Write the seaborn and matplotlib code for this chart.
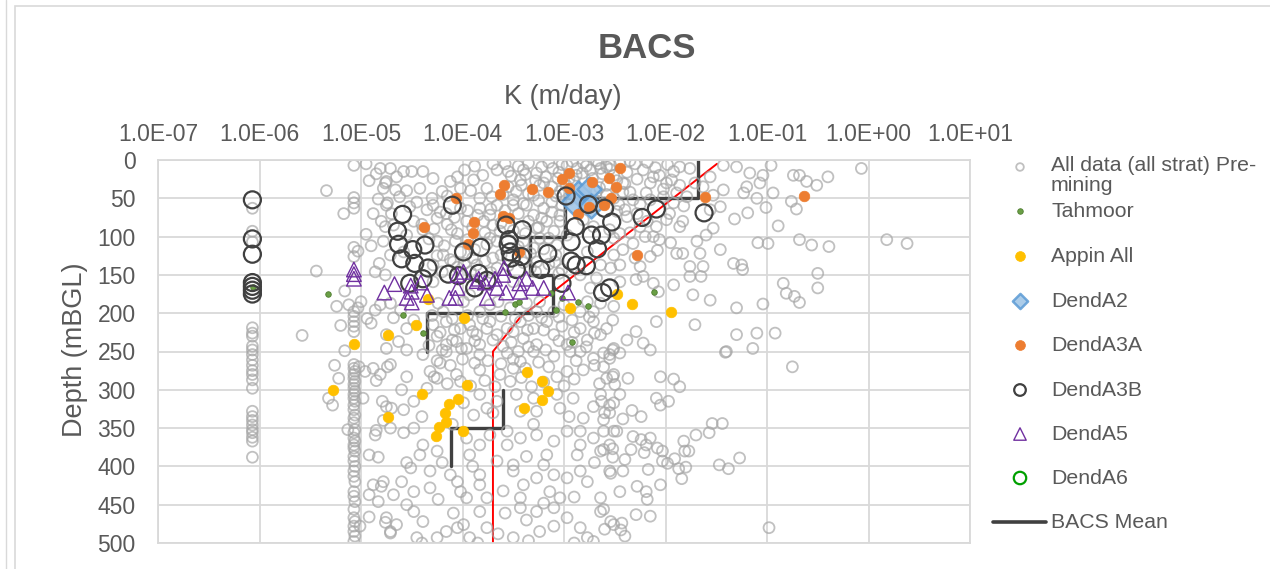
import numpy as np
import pandas as pd
import matplotlib
matplotlib.use("Agg")
import matplotlib.pyplot as plt
from matplotlib.ticker import FixedLocator, NullLocator, FixedFormatter
from matplotlib.patches import Rectangle
from matplotlib.lines import Line2D
import seaborn as sns

# ------------------------------------------------------------------ data
# every point is (log10 of K in m/day, depth in mBGL)
all_data_points = [
    # shallow / left part
    (-5.07, 7), (-4.92, 27), (-5.34, 40), (-5.07, 49), (-5.07, 56), (-5.07, 63), (-5.17, 70),
    (-4.78, 37), (-4.75, 28), (-4.83, 51), (-4.74, 56), (-4.76, 87), (-4.95, 97), (-4.90, 112),
    (-5.07, 114), (-5.03, 119), (-5.07, 126), (-5.44, 145), (-4.86, 146), (-5.16, 171),
    (-5.24, 191), (-5.12, 189), (-5.03, 193), (-5.00, 185), (-5.07, 198), (-5.07, 204),
    (-5.07, 211), (-5.07, 217), (-5.07, 224), (-5.20, 216), (-4.94, 207), (-4.90, 213),
    (-4.81, 189), (-4.86, 196), (-5.58, 229), (-4.71, 11),
    (-4.95, 5), (-4.85, 18), (-4.65, 22), (-4.62, 48), (-4.55, 40), (-4.45, 55), (-4.88, 70),
    (-4.68, 85), (-4.58, 120), (-4.82, 135),
    (-6.07, 63), (-6.07, 93), (-6.07, 107), (-6.07, 219), (-6.07, 226), (-6.07, 230),
    (-6.07, 243), (-6.07, 248), (-6.07, 254), (-6.07, 261), (-6.07, 268), (-6.07, 275),
    (-6.07, 280), (-6.07, 287), (-6.07, 298), (-6.07, 328), (-6.07, 335), (-6.07, 340),
    (-6.07, 346), (-6.07, 352), (-6.07, 356), (-6.07, 362), (-6.07, 367), (-6.07, 388),
    (-5.07, 267), (-5.07, 272), (-5.06, 276), (-5.07, 280), (-5.07, 285), (-5.06, 289),
    (-5.07, 293), (-5.07, 298), (-5.06, 302), (-5.07, 306), (-5.07, 311), (-5.06, 315),
    (-5.07, 320), (-5.07, 326), (-5.06, 333), (-5.07, 337), (-5.07, 343), (-5.06, 352),
    (-5.07, 356), (-5.07, 363), (-5.06, 367), (-5.07, 372), (-5.07, 376), (-5.06, 380),
    (-5.07, 387), (-5.07, 393), (-5.06, 400), (-5.07, 406), (-5.07, 413), (-5.06, 420),
    (-5.07, 433), (-5.07, 439), (-5.06, 446), (-5.07, 456), (-5.07, 467), (-5.06, 472),
    (-5.07, 478), (-5.07, 485), (-5.06, 491), (-5.07, 498),
    (-5.02, 270), (-5.01, 478), (-5.16, 249), (-5.26, 268), (-5.22, 285), (-5.32, 311),
    (-5.28, 320), (-5.13, 352), (-4.98, 311), (-4.96, 276), (-4.88, 272), (-4.81, 280),
    (-4.85, 288), (-4.74, 270), (-4.75, 322), (-4.78, 340), (-4.85, 353), (-4.86, 359),
    (-4.92, 385), (-4.83, 388), (-4.88, 424), (-4.80, 426), (-4.92, 437), (-4.83, 446),
    (-4.92, 466), (-4.76, 473), (-4.71, 487),
    # central part, 0-250 m
    (-4.81, 11), (-4.58, 15), (-4.50, 15), (-4.39, 15), (-4.29, 24), (-4.12, 28), (-3.98, 13),
    (-3.66, 13), (-3.55, 15), (-3.40, 13), (-3.27, 17), (-3.11, 11), (-3.06, 24), (-2.81, 4),
    (-2.68, 1), (-2.82, 17), (-4.76, 30), (-4.66, 39), (-4.42, 37), (-4.30, 50), (-4.20, 41),
    (-4.02, 37), (-3.89, 26), (-3.76, 37), (-3.71, 48), (-3.83, 50), (-3.43, 26), (-3.47, 41),
    (-3.30, 46), (-3.24, 33), (-3.12, 35), (-3.04, 41),
    (-3.58, 5), (-3.45, 8), (-3.35, 4), (-3.22, 9), (-3.15, 3), (-3.02, 6), (-2.92, 2),
    (-2.78, 8), (-2.66, 5), (-2.55, 12), (-2.45, 4), (-2.38, 16), (-3.52, 21), (-3.38, 19),
    (-3.28, 27), (-3.18, 22), (-3.05, 16), (-2.95, 25), (-2.88, 20), (-2.72, 24), (-2.62, 18),
    (-2.48, 27), (-2.40, 31), (-3.55, 35), (-3.42, 33), (-3.35, 44), (-3.20, 30), (-3.08, 47),
    (-2.98, 33), (-2.90, 28), (-2.80, 40), (-2.65, 36), (-2.58, 45), (-2.42, 42), (-3.50, 52),
    (-3.40, 57), (-3.25, 53), (-3.12, 55), (-2.95, 52), (-2.84, 47), (-2.70, 52), (-2.60, 56),
    (-2.46, 58), (-3.60, 45), (-3.80, 20), (-3.92, 40), (-4.05, 22), (-4.15, 47), (-3.70, 5),
    (-3.88, 8),
    (-4.75, 59), (-4.70, 70), (-4.80, 80), (-4.52, 61), (-4.48, 80), (-4.29, 59), (-4.25, 76),
    (-4.16, 70), (-4.02, 63), (-3.96, 80), (-4.11, 91), (-3.83, 63), (-3.73, 72), (-3.79, 80),
    (-3.70, 85), (-3.66, 59), (-3.50, 59), (-3.37, 59), (-3.30, 72), (-3.20, 63), (-3.17, 80),
    (-3.27, 89), (-3.10, 93), (-3.04, 72), (-3.02, 59), (-3.63, 93), (-4.39, 91), (-4.55, 98),
    (-4.35, 65), (-4.22, 68), (-4.08, 75), (-3.95, 66), (-3.85, 72), (-3.72, 64), (-3.58, 66),
    (-3.45, 70), (-3.35, 80), (-3.22, 76), (-3.12, 68), (-4.40, 84), (-4.28, 90), (-4.15, 84),
    (-4.05, 96), (-3.90, 88), (-3.78, 95), (-3.62, 82), (-3.50, 92), (-3.38, 96), (-3.25, 88),
    (-3.15, 102), (-4.33, 103), (-4.18, 112), (-4.07, 106), (-3.95, 104), (-3.88, 117),
    (-3.76, 110), (-3.66, 106), (-3.45, 113), (-3.33, 122), (-3.20, 116), (-3.08, 124),
    (-4.25, 125), (-4.12, 130), (-3.98, 135), (-3.90, 128), (-3.78, 132), (-3.62, 124),
    (-3.55, 138), (-3.40, 134), (-3.28, 146), (-3.15, 136), (-3.05, 148), (-4.05, 140),
    (-3.92, 146), (-3.72, 147),
    (-4.78, 106), (-4.71, 124), (-4.25, 106), (-4.19, 124), (-4.09, 133), (-4.02, 120),
    (-3.73, 102), (-3.70, 128), (-3.66, 141), (-3.40, 106), (-3.30, 115), (-3.24, 102),
    (-3.27, 133), (-3.07, 111), (-3.09, 133), (-3.02, 143), (-4.29, 137), (-4.20, 146),
    (-3.33, 141), (-3.86, 137),
    (-4.76, 150), (-4.71, 187), (-4.61, 196), (-4.29, 159), (-4.24, 187), (-4.19, 198),
    (-3.99, 185), (-3.93, 176), (-3.83, 198), (-3.73, 189), (-3.65, 185), (-3.53, 193),
    (-3.37, 187), (-3.27, 198), (-3.24, 185), (-3.00, 189), (-3.10, 198), (-2.84, 198),
    (-2.71, 198), (-2.77, 185), (-2.64, 187), (-2.51, 191), (-3.50, 159),
    (-4.68, 206), (-4.55, 220), (-4.75, 228), (-4.63, 237), (-4.48, 209), (-4.29, 215),
    (-4.25, 230), (-4.16, 211), (-4.16, 241), (-4.02, 220), (-4.06, 237), (-3.93, 215),
    (-3.86, 228), (-3.96, 246), (-3.83, 241), (-3.73, 211), (-3.66, 228), (-3.56, 220),
    (-3.60, 243), (-3.43, 211), (-3.40, 233), (-3.30, 220), (-3.27, 241), (-3.17, 211),
    (-3.10, 228), (-3.02, 217), (-2.97, 241), (-2.84, 220), (-2.77, 235), (-2.71, 211),
    (-2.64, 228), (-2.58, 220), (-2.51, 246), (-2.84, 250),
    (-4.30, 203), (-4.10, 207), (-3.95, 203), (-3.80, 207), (-3.62, 204), (-3.48, 207),
    (-3.35, 203), (-3.22, 206), (-3.05, 205), (-2.92, 209), (-2.75, 205), (-4.22, 225),
    (-4.08, 222), (-3.90, 224), (-3.76, 220), (-3.50, 224), (-3.36, 222), (-3.20, 222),
    (-3.05, 236), (-2.90, 225), (-2.70, 226), (-4.33, 242), (-4.20, 248), (-4.10, 235),
    (-3.88, 236), (-3.70, 235), (-3.52, 238), (-3.45, 250), (-3.35, 244), (-3.18, 248),
    (-2.92, 238), (-2.78, 244),
    (-2.97, 7), (-2.87, 11), (-2.74, 13), (-2.64, 11), (-2.54, 7), (-2.51, 20), (-2.58, 33),
    (-2.68, 41), (-2.51, 50), (-2.48, 67), (-3.04, 80), (-2.97, 98), (-2.81, 78), (-2.71, 87),
    (-2.51, 102), (-2.77, 120), (-2.51, 124), (-2.64, 137), (-2.54, 141), (-2.45, 137),
    (-2.84, 150), (-2.68, 154), (-2.74, 167), (-2.45, 159),
    # central part, 250-500 m
    (-4.75, 246), (-4.55, 248), (-4.39, 254), (-4.16, 250), (-4.01, 246), (-3.83, 254),
    (-3.56, 252), (-3.43, 263), (-3.30, 250), (-3.10, 256), (-2.94, 250), (-2.71, 259),
    (-2.55, 254), (-4.71, 267), (-4.55, 283), (-4.32, 276), (-4.22, 265), (-4.06, 280),
    (-3.83, 274), (-3.63, 280), (-3.50, 272), (-3.53, 289), (-3.07, 283), (-2.97, 276),
    (-2.81, 274), (-2.58, 285), (-2.51, 280),
    (-4.25, 262), (-4.12, 268), (-4.00, 260), (-3.88, 265), (-3.75, 262), (-3.62, 266),
    (-3.50, 260), (-3.38, 272), (-3.25, 264), (-3.15, 270), (-2.88, 262), (-2.70, 268),
    (-4.28, 283), (-4.15, 292), (-4.02, 289), (-3.92, 295), (-3.78, 288), (-3.68, 296),
    (-3.42, 284), (-3.32, 296), (-3.20, 290), (-3.00, 295), (-2.90, 286), (-2.65, 292),
    (-4.79, 315), (-4.70, 324), (-4.58, 326), (-4.48, 315), (-4.35, 298), (-4.25, 285),
    (-3.89, 333), (-3.99, 317), (-3.83, 306), (-3.76, 324), (-3.66, 315), (-3.47, 306),
    (-3.43, 328), (-3.30, 311), (-3.27, 328), (-3.07, 306), (-3.04, 324), (-2.91, 311),
    (-2.81, 337), (-2.71, 322), (-2.64, 306), (-2.51, 317),
    (-4.60, 300), (-4.40, 335), (-4.10, 345), (-3.70, 330), (-3.30, 345), (-2.95, 335),
    (-2.60, 330),
    (-4.71, 350), (-4.58, 356), (-4.48, 350), (-4.39, 372), (-4.25, 380), (-4.42, 385),
    (-3.96, 363), (-3.83, 372), (-3.93, 385), (-3.73, 359), (-3.56, 354), (-3.56, 372),
    (-3.43, 363), (-3.37, 387), (-3.27, 359), (-3.17, 385), (-3.10, 367), (-2.97, 354),
    (-2.84, 372), (-2.71, 363), (-2.64, 380), (-2.51, 354), (-2.55, 372), (-2.84, 354),
    (-2.87, 385), (-3.66, 393), (-3.50, 398),
    (-4.55, 395), (-4.20, 395), (-3.90, 400), (-3.20, 398), (-2.70, 395),
    (-4.78, 420), (-4.68, 437), (-4.48, 433), (-4.51, 402), (-4.32, 406), (-4.32, 428),
    (-4.24, 443), (-4.12, 411), (-4.02, 433), (-3.96, 441), (-3.83, 411), (-3.83, 424),
    (-3.76, 441), (-3.50, 406), (-3.40, 424), (-3.43, 441), (-3.27, 415), (-3.14, 433),
    (-3.04, 441), (-3.10, 411), (-2.97, 415), (-2.84, 406), (-2.77, 420), (-2.55, 406),
    (-2.64, 441), (-2.45, 433),
    (-4.60, 420), (-4.05, 420), (-3.60, 432), (-3.20, 448), (-2.90, 440),
    (-4.75, 467), (-4.65, 476), (-4.71, 485), (-4.48, 459), (-4.39, 472), (-4.45, 493),
    (-4.25, 493), (-4.16, 485), (-4.09, 461), (-3.99, 476), (-3.93, 493), (-3.83, 459),
    (-3.76, 480), (-3.58, 461), (-3.50, 493), (-3.43, 454), (-3.37, 470), (-3.24, 485),
    (-3.27, 459), (-3.10, 454), (-2.97, 467), (-2.84, 480), (-2.77, 493), (-2.64, 459),
    (-2.51, 476), (-2.71, 498),
    (-4.55, 450), (-4.05, 480), (-3.65, 488), (-3.10, 478), (-2.60, 482), (-4.40, 500),
    (-3.85, 500), (-3.35, 497), (-2.90, 500),
    # right part, 0-250 m
    (-2.35, 1), (-2.58, 9), (-2.22, 13), (-2.06, 20), (-1.86, 9), (-1.76, 11), (-1.56, 22),
    (-1.63, 35), (-1.43, 7), (-1.30, 9), (-1.17, 17), (-1.04, 20), (-0.96, 7), (-1.07, 30),
    (-1.20, 35), (-1.10, 50), (-1.43, 39), (-1.23, 43), (-0.94, 43), (-0.74, 20), (-0.68, 20),
    (-0.61, 28), (-0.51, 33), (-0.40, 22), (-0.07, 11), (-0.76, 54), (-0.71, 64), (-1.01, 62),
    (-0.89, 86), (-1.19, 69), (-1.32, 77), (-1.46, 61), (-1.53, 46), (-1.71, 30), (-1.99, 78),
    (-1.86, 87), (-1.83, 80), (-1.60, 98), (-1.53, 89), (-2.12, 100), (-2.06, 104),
    (-1.89, 122), (-1.83, 122), (-1.69, 106), (-1.66, 122), (-1.46, 117), (-1.09, 108),
    (-0.99, 109), (-0.68, 104), (-0.56, 111), (-0.39, 113), (0.18, 104), (0.38, 109),
    (-1.33, 135), (-1.25, 137), (-1.24, 143), (-1.63, 139), (-1.76, 139), (-1.76, 152),
    (-1.65, 152), (-1.92, 163), (-1.73, 176), (-1.56, 183), (-1.30, 193), (-1.04, 188),
    (-0.84, 161), (-0.81, 174), (-0.73, 178), (-0.68, 186), (-0.50, 148), (-0.50, 167),
    (-2.09, 211), (-1.71, 215), (-2.29, 224), (-2.38, 235), (-2.22, 239), (-2.15, 248),
    (-1.30, 228), (-1.10, 226), (-0.92, 226), (-1.40, 250), (-1.14, 246), (-2.52, 209),
    (-2.52, 248), (-2.22, 152), (-2.29, 156), (-2.12, 161), (-2.07, 172), (-2.25, 139),
    (-2.15, 126), (-2.42, 117), (-2.32, 109), (-2.45, 96), (-2.25, 87), (-2.09, 87),
    (-1.96, 70), (-1.56, 65), (-2.42, 30), (-2.15, 30), (-1.99, 30), (-2.32, 52), (-2.19, 43),
    (-1.89, 43), (-1.79, 48), (-2.38, 74), (-2.55, 91),
    (-2.30, 5), (-2.18, 3), (-2.10, 10), (-1.98, 6), (-1.92, 15), (-2.28, 25), (-2.12, 22),
    (-2.02, 38), (-1.94, 26), (-1.86, 33), (-2.35, 42), (-2.25, 58), (-2.15, 52), (-2.02, 48),
    (-1.92, 56), (-2.40, 65), (-2.28, 70), (-2.18, 80), (-2.35, 95), (-2.20, 100),
    (-2.30, 128), (-2.08, 118), (-1.95, 108), (-1.82, 60),
    # right part, 250-500 m
    (-2.61, 252), (-2.55, 259), (-2.45, 252), (-1.41, 251), (-0.75, 270), (-2.61, 270),
    (-2.52, 283), (-2.50, 293), (-2.37, 285), (-2.05, 283), (-1.92, 286), (-1.86, 296),
    (-2.45, 306), (-2.63, 315), (-2.55, 320), (-2.55, 330), (-2.61, 339), (-2.42, 338),
    (-2.33, 327), (-2.24, 335), (-2.09, 311), (-2.05, 320), (-1.97, 315), (-2.61, 354),
    (-2.48, 354), (-2.32, 361), (-2.24, 365), (-2.15, 363), (-2.19, 372), (-2.08, 376),
    (-2.03, 380), (-2.61, 378), (-2.52, 377), (-2.34, 378), (-2.21, 382), (-2.40, 391),
    (-2.52, 388), (-1.82, 367), (-1.70, 359), (-1.81, 380), (-1.77, 380), (-1.91, 390),
    (-2.03, 393), (-1.98, 396), (-1.87, 403), (-1.80, 401), (-1.84, 416), (-1.57, 356),
    (-1.54, 344), (-1.44, 344), (-1.47, 398), (-1.38, 403), (-1.27, 389), (-2.54, 409),
    (-2.42, 406), (-2.17, 404), (-2.28, 426), (-2.19, 433), (-2.18, 443), (-2.05, 424),
    (-2.61, 456), (-2.54, 472), (-2.43, 474), (-2.44, 483), (-2.40, 491), (-2.29, 463),
    (-2.15, 465), (-0.98, 480),
]

tahmoor_points = [
    (-5.33, 175), (-6.06, 166), (-4.59, 202), (-4.39, 226), (-3.58, 199), (-3.48, 188),
    (-3.44, 185), (-3.08, 196), (-3.02, 180), (-2.86, 185), (-2.76, 191), (-2.92, 238),
    (-3.13, 174), (-2.11, 172),
]

appin_points = [
    (-5.07, 240), (-4.73, 229), (-4.46, 216), (-4.34, 181), (-3.99, 206), (-2.94, 193),
    (-2.48, 175), (-2.33, 188), (-1.95, 199), (-5.28, 300), (-4.73, 336), (-4.40, 306),
    (-3.96, 294), (-4.04, 312), (-4.13, 319), (-4.17, 330), (-4.16, 342), (-4.23, 348),
    (-4.26, 360), (-4.00, 354), (-3.36, 277), (-3.22, 289), (-3.16, 301), (-3.22, 313),
    (-3.39, 324),
]

denda2_points = [(-2.86, 43), (-2.75, 38), (-2.91, 55), (-2.73, 60)]

denda3a_points = [
    (-4.06, 50), (-4.38, 87), (-3.59, 32), (-3.63, 45), (-3.89, 81), (-3.90, 95), (-3.95, 110),
    (-3.60, 73), (-3.54, 76), (-3.44, 120), (-3.32, 38), (-3.16, 42), (-3.02, 25), (-2.95, 17),
    (-2.95, 36), (-2.72, 29), (-2.56, 23), (-2.45, 11), (-2.49, 35), (-2.54, 49), (-2.86, 71),
    (-2.75, 62), (-2.61, 59), (-2.28, 124), (-1.61, 48), (-0.64, 47),
]

denda3b_points = [
    (-6.07, 52), (-6.07, 103), (-6.07, 123), (-6.07, 160), (-6.07, 165), (-6.07, 170),
    (-6.07, 175), (-4.10, 59), (-4.59, 71), (-4.64, 93), (-4.63, 110), (-4.49, 117),
    (-4.37, 111), (-4.60, 129), (-4.47, 135), (-4.34, 141), (-4.39, 155), (-4.52, 161),
    (-3.99, 120), (-3.82, 114), (-4.14, 149), (-4.04, 151), (-3.84, 148), (-3.88, 167),
    (-3.76, 157), (-3.57, 85), (-3.41, 91), (-3.54, 104), (-3.55, 110), (-3.53, 120),
    (-3.52, 128), (-3.42, 126), (-3.47, 143), (-3.16, 122), (-3.23, 143), (-3.02, 161),
    (-2.98, 47), (-2.76, 58), (-2.60, 63), (-2.53, 81), (-2.89, 87), (-2.93, 107),
    (-2.73, 98), (-2.63, 98), (-2.67, 116), (-2.93, 132), (-2.88, 137), (-2.78, 138),
    (-2.62, 173), (-2.55, 167), (-2.23, 75), (-2.09, 64), (-1.62, 69),
]

denda5_points = [
    (-5.07, 143), (-5.07, 149), (-5.07, 155), (-4.77, 173), (-4.67, 162), (-4.51, 164),
    (-4.50, 172), (-4.55, 180), (-4.50, 186), (-4.41, 160), (-4.35, 176), (-4.13, 180),
    (-4.07, 180), (-4.05, 167), (-4.05, 150), (-3.99, 146), (-3.86, 158), (-3.84, 155),
    (-3.78, 160), (-3.68, 155), (-3.66, 167), (-3.59, 141), (-3.60, 150), (-3.76, 180),
    (-3.57, 173), (-3.44, 161), (-3.43, 172), (-3.37, 155), (-3.31, 167), (-3.20, 167),
    (-2.96, 173),
]

denda6_points = []

# BACS mean: one K value per 50 m interval (no value for 250-300 m)
mean_top = [0, 50, 100, 150, 200, 250, 300, 350]
mean_bottom = [50, 100, 150, 200, 250, 300, 350, 400]
mean_k = [2.1e-2, 1.02e-3, 4.6e-4, 7.8e-4, 4.5e-5, np.nan, 2.5e-4, 7.7e-5]

# red trend line
trend_log10k = [-3.70, -3.70, -3.435, -1.493]
trend_depth = [500, 250, 206, 5]

x_ticks = [1e-7, 1e-6, 1e-5, 1e-4, 1e-3, 1e-2, 1e-1, 1e0, 1e1]
y_ticks = [0, 50, 100, 150, 200, 250, 300, 350, 400, 450, 500]

# ------------------------------------------------------------------ style
sns.set_theme(style="white")
plt.rcParams["font.family"] = ["Liberation Sans", "DejaVu Sans"]
TXT = "#595959"
GRID = "#D9D9D9"


def to_df(points):
    df = pd.DataFrame(points, columns=["log10k", "depth"])
    df["k"] = 10.0 ** df["log10k"]
    return df


W, H = 1270, 569
fig = plt.figure(figsize=(W / 100, H / 100), dpi=100)
ax = fig.add_axes([158 / W, 1 - 543 / H, (970 - 158) / W, (543 - 160) / H])
ax.set_xscale("log")
ax.set_xlim(1e-7, 1e1)
ax.set_ylim(500, 0)

# lines (below the points)
seg_rows = []
seg_id = 0
for top, bot, k in zip(mean_top, mean_bottom, mean_k):
    if np.isnan(k):
        seg_id += 1
        continue
    seg_rows.append({"k": k, "depth": top, "seg": seg_id})
    seg_rows.append({"k": k, "depth": bot, "seg": seg_id})
mean_df = pd.DataFrame(seg_rows)
sns.lineplot(data=mean_df, x="k", y="depth", units="seg", estimator=None, sort=False,
             color="#404040", linewidth=2.4, ax=ax, zorder=1.6, legend=False)

trend_df = pd.DataFrame({"k": 10.0 ** np.array(trend_log10k), "depth": trend_depth})
sns.lineplot(data=trend_df, x="k", y="depth", estimator=None, sort=False,
             color="#FF0000", linewidth=1.4, ax=ax, zorder=1.5, legend=False)

# series styles
styles = {
    "all": dict(marker="o", s=62, facecolor="none", edgecolor="#A6A6A6", linewidth=1.3, alpha=0.7, zorder=2),
    "tahmoor": dict(marker="o", s=16, color="#6A9F45", edgecolor="#507E32", linewidth=0.6, zorder=3),
    "appin": dict(marker="o", s=58, color="#FFC000", edgecolor="#FFC000", linewidth=0.5, zorder=3),
    "denda2": dict(marker="D", s=150, color="#9DC3E6", edgecolor="#5B9BD5", linewidth=1.8, alpha=0.85, zorder=3),
    "denda3a": dict(marker="o", s=58, color="#ED7D31", edgecolor="#ED7D31", linewidth=0.5, zorder=3),
    "denda3b": dict(marker="o", s=150, facecolor="none", edgecolor="#404040", linewidth=1.6, zorder=4),
    "denda5": dict(marker="^", s=110, facecolor="none", edgecolor="#7030A0", linewidth=1.0, zorder=5),
    "denda6": dict(marker="o", s=90, facecolor="none", edgecolor="#00A000", linewidth=1.6, zorder=5),
}
series = [
    ("all", all_data_points), ("tahmoor", tahmoor_points), ("appin", appin_points),
    ("denda2", denda2_points), ("denda3a", denda3a_points), ("denda3b", denda3b_points),
    ("denda5", denda5_points), ("denda6", denda6_points),
]
for key, pts in series:
    if len(pts) == 0:
        continue
    sns.scatterplot(data=to_df(pts), x="k", y="depth", ax=ax, legend=False, **styles[key])

# axes appearance
ax.xaxis.set_major_locator(FixedLocator(x_ticks))
ax.xaxis.set_minor_locator(NullLocator())
ax.xaxis.set_major_formatter(FixedFormatter([f"{v:.1E}" for v in x_ticks]))
ax.yaxis.set_major_locator(FixedLocator(y_ticks))
ax.xaxis.tick_top()
ax.xaxis.set_label_position("top")
ax.tick_params(axis="x", which="both", length=0, pad=10, labelsize=16.5, labelcolor=TXT)
ax.tick_params(axis="y", length=0, pad=16, labelsize=16.5, labelcolor=TXT)
ax.grid(True, color=GRID, linewidth=1.3)
ax.set_axisbelow(True)
for sp in ax.spines.values():
    sp.set_color(GRID)
    sp.set_linewidth(1.3)

ax.set_xlabel("K (m/day)", fontsize=19.5, color=TXT)
ax.set_ylabel("Depth (mBGL)", fontsize=19.5, color=TXT)
ax.xaxis.label.set_va("center")
ax.yaxis.label.set_va("center")
ax.xaxis.set_label_coords((563 - 158) / 812, (543 - 97) / 383)
ax.yaxis.set_label_coords((75 - 158) / 812, (543 - 350) / 383)

fig.text(647 / W, 1 - 48 / H, "BACS", ha="center", va="center", fontsize=25,
         fontweight="bold", color=TXT)

# chart-area border
fig.patches.append(Rectangle((15 / W, -0.1), 1.2, 1 - 6 / H + 0.1, transform=fig.transFigure,
                             fill=False, edgecolor=GRID, linewidth=1.2))
fig.add_artist(Line2D([6 / W, 6 / W], [0, 1], transform=fig.transFigure, color=GRID, linewidth=1.0))

# legend (drawn in an overlay in figure pixel units)
lax = fig.add_axes([0, 0, 1, 1], facecolor="none")
lax.set_xlim(0, W)
lax.set_ylim(H, 0)
lax.axis("off")
mx, tx = 1020, 1051
leg_entries = [
    ("all", 167, "All data (all strat) Pre-\nmining", 30),
    ("tahmoor", 211, "Tahmoor", 16),
    ("appin", 256, "Appin All", 50),
    ("denda2", 301, "DendA2", 60),
    ("denda3a", 345, "DendA3A", 50),
    ("denda3b", 390, "DendA3B", 70),
    ("denda5", 434, "DendA5", 80),
    ("denda6", 478, "DendA6", 80),
]
for key, y, label, size in leg_entries:
    st = dict(styles[key])
    st["s"] = size
    st.pop("zorder", None)
    lax.scatter([mx], [y], **st)
    if "\n" in label:
        lax.text(tx, y - 11, label, ha="left", va="top", fontsize=15.3, color=TXT, linespacing=1.05)
    else:
        lax.text(tx, y, label, ha="left", va="center", fontsize=15.3, color=TXT)
lax.plot([993, 1046], [522, 522], color="#404040", linewidth=2.6)
lax.text(tx, 522, "BACS Mean", ha="left", va="center", fontsize=15.3, color=TXT)

fig.savefig("out.png", dpi=100)
